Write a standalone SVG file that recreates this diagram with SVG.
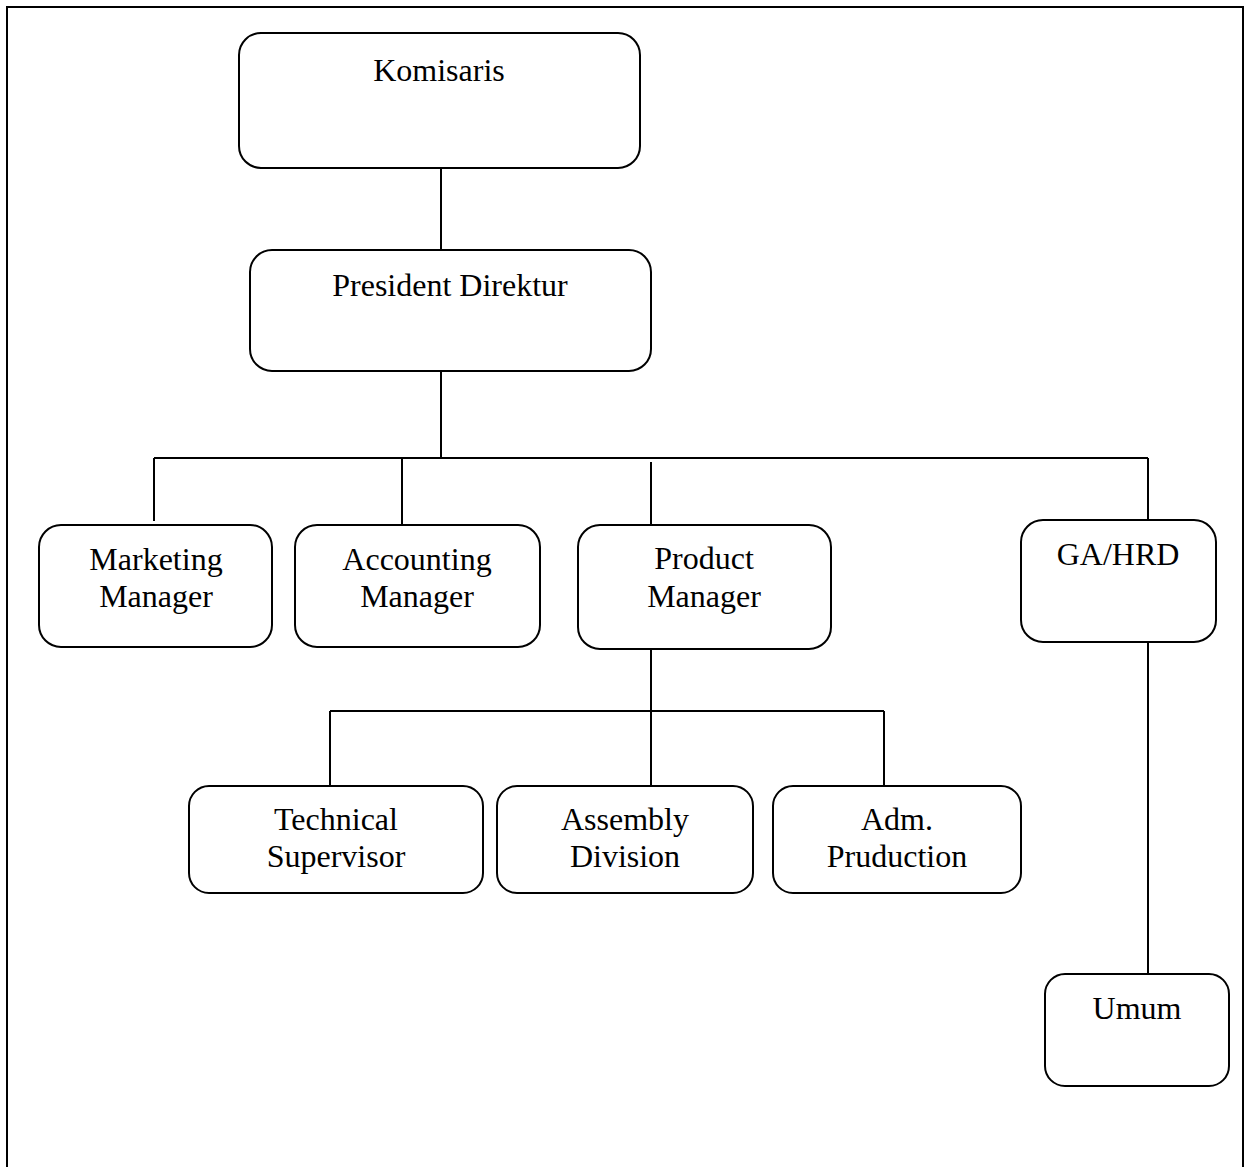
<svg xmlns="http://www.w3.org/2000/svg" width="1245" height="1167" viewBox="0 0 1245 1167">
<style>
.box{fill:#fff;stroke:#000;stroke-width:2}
.lbl{font-family:"Liberation Serif","Times New Roman",serif;font-size:32px;fill:#000;text-anchor:middle}
.con{stroke:#000;stroke-width:2;fill:none}
</style>
<rect x="0" y="0" width="1245" height="1167" fill="#fff"/>
<rect x="7" y="7" width="1236" height="1175" fill="none" stroke="#000" stroke-width="2"/>
<g id="connectors" class="con">
<path d="M441,168 V250"/>
<path d="M441,371 V458"/>
<path d="M154,458 H1148"/>
<path d="M154,458 V521"/>
<path d="M402,458 V525"/>
<path d="M651,462 V525"/>
<path d="M1148,458 V520"/>
<path d="M651,649 V786"/>
<path d="M330,711 H884"/>
<path d="M330,711 V786"/>
<path d="M884,711 V786"/>
<path d="M1148,642 V974"/>
</g>
<g id="komisaris"><rect class="box" x="239" y="33" width="401" height="135" rx="22"/><text class="lbl" x="439" y="81">Komisaris</text></g>
<g id="president"><rect class="box" x="250" y="250" width="401" height="121" rx="22"/><text class="lbl" x="450" y="296">President Direktur</text></g>
<g id="marketing"><rect class="box" x="39" y="525" width="233" height="122" rx="22"/><text class="lbl" x="156" y="570">Marketing</text><text class="lbl" x="156" y="607">Manager</text></g>
<g id="accounting"><rect class="box" x="295" y="525" width="245" height="122" rx="22"/><text class="lbl" x="417" y="570">Accounting</text><text class="lbl" x="417" y="607">Manager</text></g>
<g id="product"><rect class="box" x="578" y="525" width="253" height="124" rx="22"/><text class="lbl" x="704" y="569">Product</text><text class="lbl" x="704" y="607">Manager</text></g>
<g id="gahrd"><rect class="box" x="1021" y="520" width="195" height="122" rx="22"/><text class="lbl" x="1118" y="565">GA/HRD</text></g>
<g id="technical"><rect class="box" x="189" y="786" width="294" height="107" rx="20"/><text class="lbl" x="336" y="830">Technical</text><text class="lbl" x="336" y="867">Supervisor</text></g>
<g id="assembly"><rect class="box" x="497" y="786" width="256" height="107" rx="20"/><text class="lbl" x="625" y="830">Assembly</text><text class="lbl" x="625" y="867">Division</text></g>
<g id="adm"><rect class="box" x="773" y="786" width="248" height="107" rx="20"/><text class="lbl" x="897" y="830">Adm.</text><text class="lbl" x="897" y="867">Pruduction</text></g>
<g id="umum"><rect class="box" x="1045" y="974" width="184" height="112" rx="20"/><text class="lbl" x="1137" y="1019">Umum</text></g>
</svg>
